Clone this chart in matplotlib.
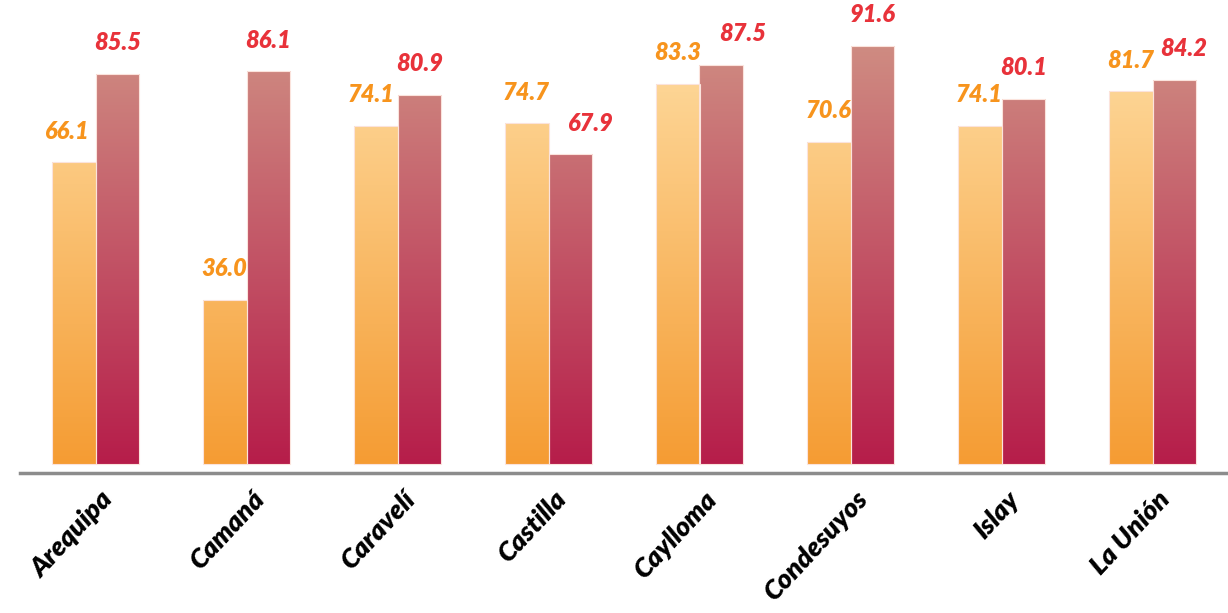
import numpy as np
import matplotlib.pyplot as plt
from matplotlib.colors import LinearSegmentedColormap

# datos
provincias = ['Arequipa', 'Camaná', 'Caravelí', 'Castilla', 'Caylloma',
              'Condesuyos', 'Islay', 'La Unión']
serie_a = [66.1, 36.0, 74.1, 74.7, 83.3, 70.6, 74.1, 81.7]
serie_b = [85.5, 86.1, 80.9, 67.9, 87.5, 91.6, 80.1, 84.2]

# degradados (abajo -> arriba)
cmap_a = LinearSegmentedColormap.from_list('a', ['#F59C33', '#FEDB9F'])
cmap_b = LinearSegmentedColormap.from_list('b', ['#B61D4A', '#CF8C82'])

fig = plt.figure(figsize=(12.28, 6.13), dpi=100)
ax = fig.add_axes([20 / 1228, (613 - 473) / 613, 1208 / 1228, 473 / 613])

x = np.arange(len(provincias))
w = 0.29
grad = np.linspace(0, 1, 256).reshape(-1, 1)
gtop = 92
fuente = ['Lato', 'DejaVu Sans']

# pequeños desplazamientos manuales de etiquetas, como en el original
ajuste = {(0, 0): -0.05, (0, 2): -0.03, (1, 3): 0.13, (1, 4): 0.14,
          (1, 7): 0.06}

for k, (vals, cmap, off, color) in enumerate(
        [(serie_a, cmap_a, -w / 2, '#F7941D'),
         (serie_b, cmap_b, w / 2, '#E8323A')]):
    bars = ax.bar(x + off, vals, width=w, color='none',
                  edgecolor='#FBE3DC', linewidth=0.8, zorder=3)
    for i, (b, v) in enumerate(zip(bars, vals)):
        x0 = b.get_x()
        im = ax.imshow(grad, cmap=cmap, origin='lower', aspect='auto',
                       extent=(x0, x0 + w, 0, gtop), zorder=2)
        im.set_clip_path(b)
        ax.text(x0 + w / 2 + ajuste.get((k, i), 0), v + 4.3, f'{v:.1f}',
                ha='center', va='bottom', color=color, fontsize=17,
                fontweight='heavy', style='italic', family=fuente)

ax.set_xlim(-0.5, 7.5)
ax.set_ylim(-2, 101.7)
ax.set_yticks([])
ax.set_xticks(x + 0.03)
ax.set_xticklabels(provincias, rotation=47, ha='right', va='top',
                   rotation_mode='anchor', fontsize=19.5, fontweight='heavy',
                   style='italic', family=fuente)
ax.tick_params(axis='x', length=0, pad=10)
for s in ['top', 'left', 'right']:
    ax.spines[s].set_visible(False)
ax.spines['bottom'].set_color('#8C8C8C')
ax.spines['bottom'].set_linewidth(2.5)

fig.savefig('out.png', dpi=100)
